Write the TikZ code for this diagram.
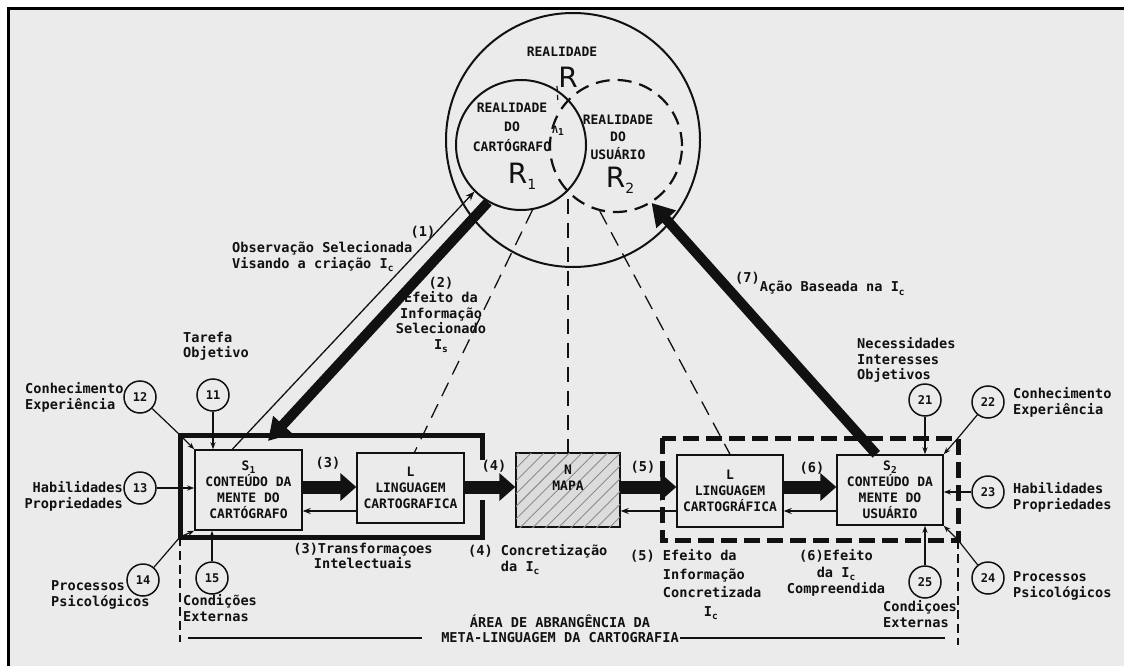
\documentclass[tikz,border=0pt]{standalone}
\usepackage{fontspec}
\setmainfont{DejaVu Sans Mono}
\newfontfamily\bigsans{DejaVu Sans}
\usetikzlibrary{arrows.meta,patterns.meta,calc}
\definecolor{paper}{HTML}{EBEBEB}
\definecolor{ink}{HTML}{111111}
\definecolor{hatch}{HTML}{8C8C8C}
\definecolor{mapfill}{HTML}{DCDCDC}
\newcommand\lowidx[1]{\raisebox{-0.45ex}{\fontsize{9.5}{9.5}\selectfont #1}}
\newcommand\bigidx[1]{\raisebox{-6pt}{\fontsize{14}{14}\selectfont #1}}

\begin{document}
\begin{tikzpicture}[x=1pt,y=-1pt,
  every node/.style={text=ink},
  lbl/.style={font=\fontsize{13.6}{15.5}\selectfont\bfseries, inner sep=0pt},
  caps/.style={font=\fontsize{13}{16}\selectfont\bfseries, inner sep=0pt, align=center},
  box/.style={draw=ink, line width=1.4pt, fill=paper, caps},
  num/.style={circle, draw=ink, line width=1.5pt, minimum size=32pt, inner sep=0pt,
              font=\fontsize{12}{12}\selectfont\bfseries},
  pin/.style={draw=ink, line width=1.2pt, -{Stealth[length=7pt,width=5pt]}},
  fat/.style={draw=ink, line width=13pt, -{Triangle[length=16pt,width=27pt]}},
  back/.style={draw=ink, line width=1.3pt, -{Stealth[length=8pt,width=6pt]}},
  ray/.style={draw=ink, line width=1.3pt, dash pattern=on 15pt off 9pt},
  beam/.style={draw=ink, line width=10pt, -{Triangle[length=22pt,width=25pt]}},
  thinray/.style={draw=ink, line width=1.3pt, -{Stealth[length=9pt,width=7pt]}},
]
\useasboundingbox (0,0) rectangle (1124,666);
\fill[white] (0,0) rectangle (1124,666);
\fill[paper] (8.5,8.5) rectangle (1124,666);
\draw[black, line width=3pt] (8.5,666) -- (8.5,8.5) -- (1124,8.5);

% --- realities -------------------------------------------------------
\node[circle, draw=ink, line width=2pt, minimum size=254pt, inner sep=0pt] (rr) at (573,140) {};
\node[circle, draw=ink, line width=2pt, minimum size=130pt, inner sep=0pt] (r1) at (521,145) {};
\node[circle, draw=ink, line width=2.2pt, dash pattern=on 14pt off 8pt, minimum size=132pt, inner sep=0pt] (r2) at (616,146) {};
\coordinate (isect) at (568,190);

\node[font=\fontsize{13}{13}\selectfont\bfseries, inner sep=0pt] (realtop) at (562,52) {REALIDADE};
\node[font=\bigsans\fontsize{28}{28}\selectfont, inner sep=0pt] (rbig) at (568,77) {R};
\node[caps, font=\fontsize{13}{19.5}\selectfont\bfseries, anchor=north] (realcart) at (512,102.5) {REALIDADE\\DO\\CARTÓGRAFO};
\node[caps, font=\fontsize{13}{17.5}\selectfont\bfseries, anchor=north] (realusu) at (618,114.5) {REALIDADE\\DO\\USUÁRIO};
\node[font=\bigsans\fontsize{28}{28}\selectfont, inner sep=0pt] (rone) at (522,176) {R\bigidx{1}};
\node[font=\bigsans\fontsize{28}{28}\selectfont, inner sep=0pt] (rtwo) at (620,180) {R\bigidx{2}};
\draw[ink, line width=1.2pt, dash pattern=on 5pt off 4pt] (557,86) -- (558,104);
\node[font=\fontsize{10}{10}\selectfont\bfseries, inner sep=0pt] (lam) at (558,131) {Λ\lowidx{1}};

% --- chain of boxes --------------------------------------------------
\node[box, minimum width=107pt, minimum height=80pt] (s1) at (248.5,490) {S\lowidx{1}\\CONTEÚDO DA\\MENTE DO\\CARTÓGRAFO};
\node[box, minimum width=107pt, minimum height=70pt] (l1) at (410.5,488) {L\\LINGUAGEM\\CARTOGRAFICA};
\node[draw=ink, line width=1.4pt, fill=mapfill,
      postaction={pattern color=hatch, pattern={Lines[angle=45,distance=9pt,line width=0.9pt]}},
      minimum width=104pt, minimum height=74pt] (map) at (568,490) {};
\node[caps] (maplbl) at (568,478) {N\\MAPA};
\node[box, minimum width=106pt, minimum height=72pt] (l2) at (730,491) {L\\LINGUAGEM\\CARTOGRÁFICA};
\node[box, minimum width=106pt, minimum height=70pt] (s2) at (890,490) {S\lowidx{2}\\CONTEÚDO DA\\MENTE DO\\USUÁRIO};

% rows for the horizontal flows
\coordinate (fatrow) at (0,487);
\coordinate (backrow) at (0,511);

% frames round the two minds
\coordinate (f1a) at (482,460);
\coordinate (f1ne) at (482,435);
\coordinate (f1nw) at (180,435);
\coordinate (f1sw) at (180,537);
\coordinate (f1se) at (482,537);
\coordinate (f1b) at (482,500);
\draw[ink, line width=5pt] (f1a) -- (f1ne) -- (f1nw) -- (f1sw) -- (f1se) -- (f1b);
\coordinate (f2nw) at (662,438);
\coordinate (f2ne) at (958,438);
\coordinate (f2se) at (958,540);
\draw[ink, line width=5pt, dash pattern=on 16pt off 7pt] (f2nw) rectangle (f2se);

% rays from the realities down to the chain
\draw[ray] (r1.280) -- ($(l1.north)+(4,0)$);
\draw[ray, dash phase=15pt] (isect) -- (map.north);
\draw[ray] (r2.256) -- (l2.north);

% flows between the boxes
\draw[fat] (s1.east |- fatrow) -- (l1.west |- fatrow);
\draw[fat] (l1.east |- fatrow) -- (map.west |- fatrow);
\draw[fat] (map.east |- fatrow) -- (l2.west |- fatrow);
\draw[fat] (l2.east |- fatrow) -- (s2.west |- fatrow);
\draw[back] (l1.west |- backrow) -- (s1.east |- backrow);
\draw[back] (l2.west |- backrow) -- (map.east |- backrow);
\draw[back] (s2.west |- backrow) -- (l2.east |- backrow);

% observation and action
\coordinate (a2end) at (268,441);
\draw[thinray] ($(s1.north west)+(38,0)$) -- (r1.225);
\draw[beam] (r1.240) -- (a2end);
\draw[beam] ($(s2.north west)+(40,0)$) -- (r2.302);

% influences on the cartographer
\node[num] (c11) at (213,395) {11};
\node[num] (c12) at (140,397) {12};
\node[num] (c13) at (140,488) {13};
\node[num] (c14) at (143,580) {14};
\node[num] (c15) at (212,578) {15};
\draw[pin] (c11) -- (c11 |- s1.north);
\draw[pin] (c12) -- (f1nw) -- (s1.north west);
\draw[pin] (c13) -- (c13 -| s1.west);
\draw[pin] (c14) -- (f1sw) -- (s1.south west);
\draw[pin] (c15) -- (c15 |- s1.south);

% influences on the user
\node[num] (c21) at (925,400) {21};
\node[num] (c22) at (988,402) {22};
\node[num] (c23) at (988,492) {23};
\node[num] (c24) at (988,578) {24};
\node[num] (c25) at (925,582) {25};
\draw[pin] (c21) -- (c21 |- s2.north);
\draw[pin] (c22) -- (f2ne) -- (s2.north east);
\draw[pin] (c23) -- (c23 -| s2.east);
\draw[pin] (c24) -- (f2se) -- (s2.south east);
\draw[pin] (c25) -- (c25 |- s2.south);

% extent of the meta-language
\coordinate (bl) at (180,642);
\coordinate (br) at (958,645);
\draw[ink, line width=1.3pt, dash pattern=on 9pt off 5pt] (f1sw) -- (bl);
\draw[ink, line width=1.3pt, dash pattern=on 9pt off 5pt] (f2se) -- (br);
\coordinate (ul1) at (188,638);
\coordinate (ul2) at (422,638);
\coordinate (ul3) at (680,638);
\coordinate (ul4) at (945,638);
\draw[ink, line width=1.6pt] (ul1) -- (ul2) (ul3) -- (ul4);

% labels, cartographer side
\node[lbl, anchor=north west, align=left] (tarefa) at (183,331.5) {Tarefa\\Objetivo};
\node[lbl, anchor=north west, align=left] (conhL) at (25,382.5) {Conhecimento\\Experiência};
\node[lbl, anchor=north east, align=right] (habL) at (123,481.5) {Habilidades\\Propriedades};
\node[lbl, anchor=north west, align=left] (procL) at (51,580.5) {Processos\\Psicológicos};
\node[lbl, anchor=north west, align=left] (condL) at (183,594.5) {Condições\\Externas};

% labels, user side
\node[lbl, anchor=north west, align=left] (necR) at (857,337.5) {Necessidades\\Interesses\\Objetivos};
\node[lbl, anchor=north west, align=left] (conhR) at (1013,387.5) {Conhecimento\\Experiência};
\node[lbl, anchor=north west, align=left] (habR) at (1013,482.5) {Habilidades\\Propriedades};
\node[lbl, anchor=north west, align=left] (procR) at (1013,571.5) {Processos\\Psicológicos};
\node[lbl, anchor=north west, align=left] (condR) at (883,600.5) {Condiçoes\\Externas};

% labels of the flows
\node[lbl] (n1) at (423,232) {(1)};
\node[lbl, anchor=north west, align=left] (obs) at (232,241.5) {Observação Selecionada\\Visando a criação I\lowidx{c}};
\node[lbl, anchor=north, align=center] (eff2) at (441,276.5) {(2)\\Efeito da\\Informação\\Selecionado\\I\lowidx{s}};
\node[lbl, anchor=west] (acao) at (735,284) {\raisebox{9pt}{(7)}Ação Baseada na I\lowidx{c}};
\node[lbl] (n3) at (328,463) {(3)};
\node[lbl] (n4) at (494,466) {(4)};
\node[lbl] (n5) at (643,467) {(5)};
\node[lbl] (n6) at (812,468) {(6)};
\node[lbl, anchor=north, align=center] (trans) at (363,542.5) {(3)Transformaçoes\\Intelectuais};
\node[lbl, anchor=north west, align=left] (conc) at (468,544.5) {(4) Concretização\\\phantom{(4) }da I\lowidx{c}};
\node[lbl, font=\fontsize{13.6}{18.5}\selectfont\bfseries, anchor=north west, align=left] (eff5) at (630,549.5)
  {(5) Efeito da\\\phantom{(5) }Informação\\\phantom{(5) }Concretizada\\\phantom{(5) Concr}I\lowidx{c}};
\node[lbl, font=\fontsize{13.6}{16.5}\selectfont\bfseries, anchor=north, align=center] (eff6) at (836,549.5)
  {(6)Efeito\\da I\lowidx{c}\\Compreendida};
\node[lbl, anchor=north, align=center] (area) at (560,614.5) {ÁREA DE ABRANGÊNCIA DA\\META-LINGUAGEM DA CARTOGRAFIA};
\end{tikzpicture}
\end{document}
